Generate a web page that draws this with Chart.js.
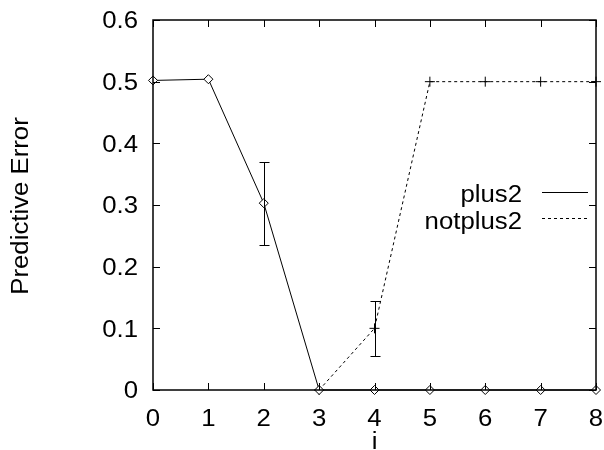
<!DOCTYPE html>
<html><head><meta charset="utf-8">
<script src="https://cdn.jsdelivr.net/npm/chart.js@4/dist/chart.umd.min.js"></script>
<style>html,body{margin:0;padding:0;background:#fff}#wrap{width:604px;height:450px}</style>
</head><body><div id="wrap"><canvas id="c" width="604" height="450"></canvas></div>
<script>
const xValues = [0, 1, 2, 3, 4, 5, 6, 7, 8];
const plus2 = [0.502, 0.504, 0.303, 0, 0, 0, 0, 0, 0];
const plus2Low = [null, null, 0.235, null, null, null, null, null, null];
const plus2High = [null, null, 0.370, null, null, null, null, null, null];
const notplus2 = [null, null, null, 0, 0.1, 0.5, 0.5, 0.5, 0.5];
const notplus2Low = [null, null, null, null, 0.055, null, null, null, null];
const notplus2High = [null, null, null, null, 0.145, null, null, null, null];
const xTicks = [0, 1, 2, 3, 4, 5, 6, 7, 8];
const yTicks = [0, 0.1, 0.2, 0.3, 0.4, 0.5, 0.6];
const xTickLabels = ['0', '1', '2', '3', '4', '5', '6', '7', '8'];
const yTickLabels = ['0', '0.1', '0.2', '0.3', '0.4', '0.5', '0.6'];
const seriesNames = ['plus2', 'notplus2'];
const xTitle = 'i';
const yTitle = 'Predictive Error';

const FONT = '"Liberation Sans", Arial, sans-serif';
const FS = 23, SX = 1.12, CAPH = 8.2;
const toPts = (ys) => xValues.map((x, i) => ys[i] === null ? null : {x: x, y: ys[i]}).filter(p => p);

function stretchedText(ctx, text, x, y, align) {
  ctx.save();
  ctx.translate(x, y);
  ctx.scale(SX, 1);
  ctx.textAlign = align;
  ctx.fillText(text, 0, 0);
  ctx.restore();
}

const frame = {
  id: 'frame',
  afterDatasetsDraw(chart) {
    const {ctx, chartArea: a, scales: {x, y}} = chart;
    ctx.save();
    ctx.strokeStyle = '#000';
    ctx.lineWidth = 1;
    const T = 7;
    ctx.beginPath();
    xTicks.forEach(v => {
      const px = Math.round(x.getPixelForValue(v)) + 0.5;
      ctx.moveTo(px, a.bottom); ctx.lineTo(px, a.bottom - T);
      ctx.moveTo(px, a.top); ctx.lineTo(px, a.top + T);
    });
    yTicks.forEach(v => {
      const py = Math.round(y.getPixelForValue(v)) + 0.5;
      ctx.moveTo(a.left, py); ctx.lineTo(a.left + T, py);
      ctx.moveTo(a.right, py); ctx.lineTo(a.right - T, py);
    });
    ctx.stroke();
    ctx.lineWidth = 1.5;
    ctx.strokeRect(a.left, a.top, a.right - a.left, a.bottom - a.top);
    // error bars
    ctx.lineWidth = 1;
    const bars = [[plus2Low, plus2High], [notplus2Low, notplus2High]];
    bars.forEach(([lo, hi]) => {
      xValues.forEach((xv, i) => {
        if (lo[i] === null) return;
        const px = Math.round(x.getPixelForValue(xv)) + 0.5;
        const p1 = Math.round(y.getPixelForValue(lo[i])) + 0.5, p2 = Math.round(y.getPixelForValue(hi[i])) + 0.5;
        ctx.beginPath();
        ctx.moveTo(px, p1); ctx.lineTo(px, p2);
        ctx.moveTo(px - 5, p1); ctx.lineTo(px + 5, p1);
        ctx.moveTo(px - 5, p2); ctx.lineTo(px + 5, p2);
        ctx.stroke();
      });
    });
    // text
    ctx.font = FS + 'px ' + FONT;
    ctx.fillStyle = '#000';
    ctx.textBaseline = 'alphabetic';
    yTicks.forEach((v, i) => stretchedText(ctx, yTickLabels[i], 138, y.getPixelForValue(v) + CAPH, 'right'));
    xTicks.forEach((v, i) => stretchedText(ctx, xTickLabels[i], x.getPixelForValue(v), 426, 'center'));
    stretchedText(ctx, xTitle, (a.left + a.right) / 2, 449, 'center');
    ctx.save();
    ctx.translate(27.5, (a.top + a.bottom) / 2 + 1);
    ctx.rotate(-Math.PI / 2);
    ctx.scale(SX, 1);
    ctx.textAlign = 'center';
    ctx.fillText(yTitle, 0, 0);
    ctx.restore();
    // legend
    const rows = [194, 221];
    const samples = [192.5, 218.5];
    seriesNames.forEach((n, i) => {
      stretchedText(ctx, n, 522, rows[i] + CAPH, 'right');
      ctx.beginPath();
      ctx.setLineDash(i === 0 ? [] : [3, 3]);
      ctx.moveTo(542, samples[i]); ctx.lineTo(588, samples[i]);
      ctx.stroke();
    });
    ctx.restore();
  }
};

new Chart(document.getElementById('c'), {
  type: 'line',
  data: {
    datasets: [
      {label: seriesNames[0], data: toPts(plus2), borderColor: '#000', borderWidth: 1, clip: false,
       pointStyle: 'rectRot', pointRadius: 4.5, pointBackgroundColor: '#fff', pointBorderColor: '#000', pointBorderWidth: 1, fill: false, tension: 0},
      {label: seriesNames[1], data: toPts(notplus2), borderColor: '#000', borderWidth: 1, borderDash: [3, 3], clip: false,
       pointStyle: 'cross', pointRadius: 5, pointBorderColor: '#000', pointBorderWidth: 1, fill: false, tension: 0}
    ]
  },
  options: {
    responsive: false, animation: false, devicePixelRatio: 1,
    layout: {padding: {left: 0, right: 8, top: 20, bottom: 0}},
    plugins: {legend: {display: false}, tooltip: {enabled: false}},
    scales: {
      x: {type: 'linear', min: 0, max: 8,
        afterBuildTicks: s => { s.ticks = xTicks.map(v => ({value: v})); },
        afterFit: s => { s.height = 60; },
        grid: {display: false, drawTicks: false}, border: {display: false},
        ticks: {display: false},
        title: {display: false, text: xTitle}
      },
      y: {type: 'linear', min: 0, max: 0.6,
        afterBuildTicks: s => { s.ticks = yTicks.map(v => ({value: v})); },
        afterFit: s => { s.width = 153; },
        grid: {display: false, drawTicks: false}, border: {display: false},
        ticks: {display: false},
        title: {display: false, text: yTitle}
      }
    }
  },
  plugins: [frame]
});
</script></body></html>
